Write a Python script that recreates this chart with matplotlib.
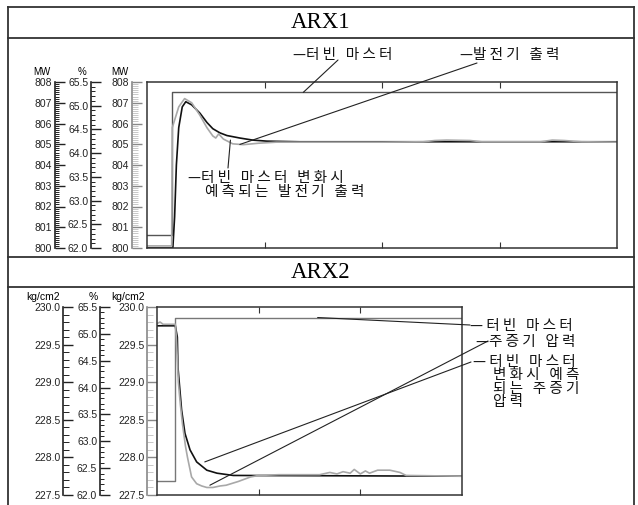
import matplotlib
matplotlib.use("Agg")
import matplotlib.pyplot as plt
from matplotlib.ticker import MultipleLocator, FormatStrFormatter, FixedLocator

plt.rcParams['font.family'] = ['Liberation Sans', 'Noto Sans CJK KR']
KR = ['Noto Sans CJK KR', 'DejaVu Sans']

# ---- ARX1 data (time in grid units 0..4, values in MW) ----
p1_master_t = [0, 0.213, 0.213, 4.0]
p1_master_v = [800.63, 800.63, 807.5, 807.5]

p1_gen_t = [0, 0.21, 0.215, 0.27, 0.32, 0.38, 0.45, 0.51, 0.56, 0.585, 0.61, 0.65,
            0.73, 0.82, 0.95, 1.1, 1.5, 2.0, 2.35, 2.45, 2.55, 2.75, 2.85, 3.35,
            3.45, 3.55, 3.7, 4.0]
p1_gen_v = [800.1, 800.1, 805.8, 806.8, 807.2, 807.0, 806.4, 805.8, 805.4, 805.3,
            805.5, 805.25, 805.02, 804.98, 805.05, 805.1, 805.1, 805.1, 805.12,
            805.18, 805.2, 805.18, 805.12, 805.12, 805.2, 805.18, 805.12, 805.1]

p1_pred_t = [0, 0.22, 0.235, 0.25, 0.27, 0.30, 0.33, 0.38, 0.45, 0.51, 0.56, 0.62,
             0.68, 0.79, 0.9, 1.02, 1.3, 4.0]
p1_pred_v = [800.0, 800.0, 801.5, 804.0, 805.8, 806.8, 807.05, 806.9, 806.5, 806.05,
             805.75, 805.55, 805.42, 805.3, 805.2, 805.15, 805.12, 805.12]

# ---- ARX2 data (time in grid units 0..3, values in kg/cm2) ----
p2_master_t = [0, 0.18, 0.18, 3.0]
p2_master_v = [227.69, 227.69, 229.86, 229.86]

p2_pres_t = [0, 0.03, 0.06, 0.1, 0.18, 0.19, 0.2, 0.21, 0.23, 0.25, 0.28, 0.30, 0.34,
             0.39, 0.44, 0.49, 0.55, 0.62, 0.68, 0.8, 0.92, 1.0, 1.2, 1.4, 1.55, 1.6,
             1.7, 1.77, 1.83, 1.9, 1.94, 2.0, 2.05, 2.09, 2.17, 2.29, 2.39, 2.45, 3.0]
p2_pres_v = [229.78, 229.80, 229.77, 229.77, 229.77, 229.6, 229.3, 229.0, 228.7,
             228.45, 228.15, 228.0, 227.74, 227.65, 227.62, 227.6, 227.6, 227.62,
             227.63, 227.68, 227.74, 227.76, 227.77, 227.77, 227.77, 227.77, 227.8,
             227.78, 227.81, 227.79, 227.84, 227.78, 227.82, 227.79, 227.83, 227.83,
             227.80, 227.76, 227.75]

p2_pred_t = [0, 0.18, 0.2, 0.206, 0.242, 0.275, 0.325, 0.39, 0.49, 0.59, 0.75, 3.0]
p2_pred_v = [229.75, 229.75, 229.6, 229.2, 228.63, 228.32, 228.1, 227.94, 227.83,
             227.79, 227.76, 227.75]

W, H = 638, 505
fig = plt.figure(figsize=(W / 100, H / 100), dpi=100)

# pixel overlay for frame + labels
ov = fig.add_axes([0, 0, 1, 1])
ov.set_xlim(0, W)
ov.set_ylim(H, 0)
ov.axis('off')
ov.set_zorder(10)
ov.patch.set_visible(False)


def box(x0, y0, x1, y1):
    return fig.add_axes([x0 / W, 1 - y1 / H, (x1 - x0) / W, (y1 - y0) / H])


def scale(x, top, bottom, lo, hi, major, minor, fmt, col='#222', mcol='#222', mlen=3):
    a = fig.add_axes([x / W, 1 - bottom / H, 0.0005, (bottom - top) / H])
    a.patch.set_visible(False)
    for s in ['top', 'right', 'bottom']:
        a.spines[s].set_visible(False)
    a.spines['left'].set_color(col)
    a.spines['left'].set_linewidth(1.2)
    a.set_xticks([])
    a.set_ylim(lo, hi)
    a.yaxis.set_major_locator(MultipleLocator(major))
    a.yaxis.set_minor_locator(MultipleLocator(minor))
    a.yaxis.set_major_formatter(FormatStrFormatter(fmt))
    a.tick_params(axis='y', which='major', direction='in', length=7, width=1,
                  color=col, labelsize=7.5, pad=2, labelcolor='#222')
    a.tick_params(axis='y', which='minor', direction='in', length=mlen, width=0.7,
                  color=mcol)
    return a


def plotbox(x0, y0, x1, y1, xmax, ylo, yhi, xt):
    a = box(x0, y0, x1, y1)
    a.set_xlim(0, xmax)
    a.set_ylim(ylo, yhi)
    a.set_yticks([])
    a.xaxis.set_major_locator(FixedLocator(xt))
    a.tick_params(axis='x', direction='in', length=4, top=True, bottom=True,
                  labelbottom=False, color='#333')
    for s in a.spines.values():
        s.set_color('#333')
        s.set_linewidth(1.1)
    return a


def kr(x, y, s):
    ov.text(x, y, s, family=KR, fontsize=10.5, va='center', color='#111')


# frame
fc = '#333'
for yy in [7, 38, 257, 287]:
    ov.plot([8, 634], [yy, yy], color=fc, lw=1.3)
for xx in [8, 634]:
    ov.plot([xx, xx], [7, H], color=fc, lw=1.3)
ov.text(321, 23, 'ARX1', family='Liberation Serif', fontsize=16.5, ha='center', va='center')
ov.text(321, 272, 'ARX2', family='Liberation Serif', fontsize=16.5, ha='center', va='center')

# ---------------- ARX1 ----------------
top1, bot1 = 82, 248
scale(55, top1, bot1, 800, 808, 1, 0.1, '%d')
scale(91, top1, bot1, 62.0, 65.5, 0.5, 0.1, '%.1f')
scale(132, top1, bot1, 800, 808, 1, 0.1, '%d', col='#888', mcol='#c8c8c8', mlen=4)
for xx, s in [(42, 'MW'), (82, '%'), (120, 'MW')]:
    ov.text(xx, 72, s, fontsize=7, ha='center', va='center')

a1 = plotbox(147, top1, 617, bot1, 4, 800, 808, [1, 2, 3])
a1.plot(p1_master_t, p1_master_v, color='#555', lw=1.0)
a1.plot(p1_pred_t, p1_pred_v, color='#111', lw=1.2)
a1.plot(p1_gen_t, p1_gen_v, color='#a8a8a8', lw=1.2)

lk = dict(arrowstyle='-', color='#222', lw=0.8, shrinkA=0, shrinkB=0)
a1.annotate('', xy=(1.33, 807.5), xytext=(338, 60), textcoords=ov.transData, arrowprops=lk)
a1.annotate('', xy=(0.79, 804.99), xytext=(477, 63), textcoords=ov.transData, arrowprops=lk)
a1.annotate('', xy=(0.71, 805.2), xytext=(228, 168), textcoords=ov.transData, arrowprops=lk)

kr(293, 55, '—터 빈   마 스 터')
kr(460, 55, '—발 전 기   출 력')
kr(188, 178, '—터 빈   마 스 터   변 화 시')
kr(205, 192, '예 측 되 는   발 전 기   출 력')

# ---------------- ARX2 ----------------
top2, bot2 = 307, 495
scale(63, top2, bot2, 227.5, 230.0, 0.5, 0.1, '%.1f', mlen=4)
scale(100, top2, bot2, 62.0, 65.5, 0.5, 0.1, '%.1f')
scale(147, top2, bot2, 227.5, 230.0, 0.5, 0.1, '%.1f', col='#888', mcol='#c8c8c8', mlen=4)
for xx, s in [(43, 'kg/cm2'), (93, '%'), (128, 'kg/cm2')]:
    ov.text(xx, 297, s, fontsize=7.5, ha='center', va='center')

a2 = plotbox(157, top2, 462, bot2, 3, 227.5, 230.0, [1, 2])
a2.plot(p2_master_t, p2_master_v, color='#777', lw=1.0)
a2.plot(p2_pred_t, p2_pred_v, color='#111', lw=1.2)
a2.plot(p2_pres_t, p2_pres_v, color='#a8a8a8', lw=1.2)

a2.annotate('', xy=(1.58, 229.86), xytext=(470, 325), textcoords=ov.transData, arrowprops=lk)
a2.annotate('', xy=(0.52, 227.63), xytext=(488, 341), textcoords=ov.transData, arrowprops=lk)
a2.annotate('', xy=(0.47, 227.94), xytext=(471, 362), textcoords=ov.transData, arrowprops=lk)

kr(470, 326, '— 터 빈   마 스 터')
kr(476, 342, '—주 증 기   압 력')
kr(473, 362, '— 터 빈   마 스 터')
kr(493, 375, '변 화 시   예 측')
kr(493, 389, '되 는   주 증 기')
kr(493, 402, '압 력')

fig.savefig('out.png', dpi=100)
